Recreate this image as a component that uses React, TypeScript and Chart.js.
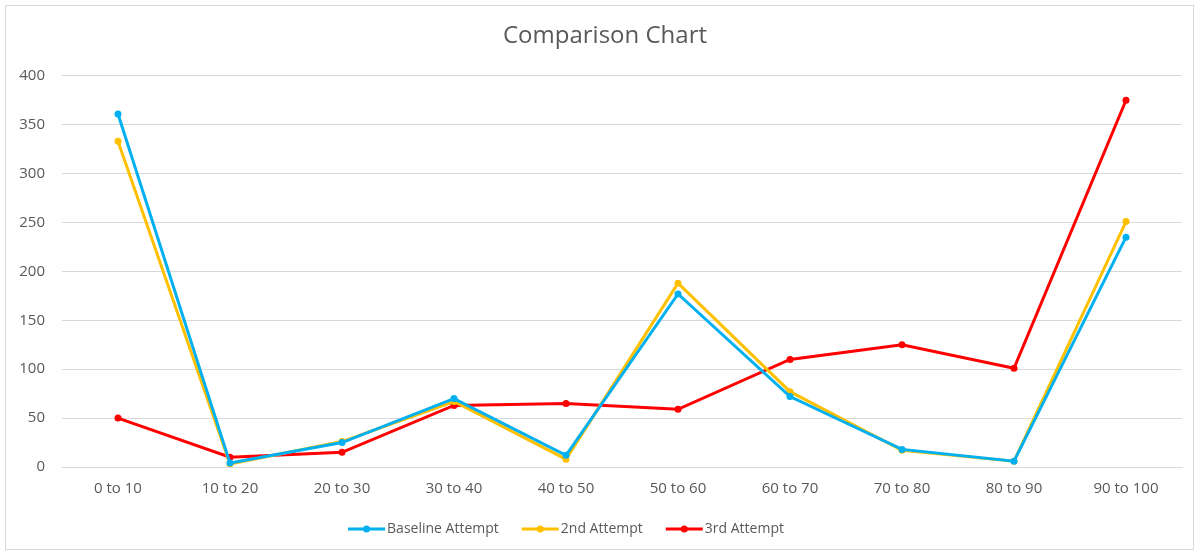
import React, { useEffect, useRef } from "react";
import { Chart, registerables } from "chart.js";

Chart.register(...registerables);

const categories = ["0 to 10", "10 to 20", "20 to 30", "30 to 40", "40 to 50", "50 to 60", "60 to 70", "70 to 80", "80 to 90", "90 to 100"];
const baselineAttempt = [361, 4, 25, 70, 12, 177, 72, 18, 6, 235];
const secondAttempt = [333, 3, 26, 67, 8, 188, 77, 17, 6, 251];
const thirdAttempt = [50, 10, 15, 63, 65, 59, 110, 125, 101, 375];
const seriesNames = ["Baseline Attempt", "2nd Attempt", "3rd Attempt"];
const seriesColors = ["#00B0F0", "#FFC000", "#FF0000"];
const yTicks = [0, 50, 100, 150, 200, 250, 300, 350, 400];

const FONT = "'Open Sans', sans-serif";
const TEXT = "#595959";

const frameAndLegend = {
  id: "frameAndLegend",
  afterLayout(chart: any) {
    const t = chart.titleBlock;
    if (t) {
      t.left = 28;
      t.width = t.right - t.left;
    }
  },
  beforeDraw(chart: any) {
    const { ctx, width, height } = chart;
    ctx.save();
    ctx.fillStyle = "#ffffff";
    ctx.fillRect(0, 0, width, height);
    ctx.strokeStyle = "#d9d9d9";
    ctx.lineWidth = 1;
    ctx.strokeRect(5.5, 5.5, width - 11, height - 10);
    ctx.restore();
  },
  afterDraw(chart: any) {
    const { ctx } = chart;
    ctx.save();
    ctx.font = `14px ${FONT}`;
    const lineW = 37;
    const gap = 2;
    const itemGap = 23;
    const widths = chart.data.datasets.map((d: any) => lineW + gap + ctx.measureText(d.label).width);
    const total = widths.reduce((a: number, b: number) => a + b, 0) + itemGap * (widths.length - 1);
    let x = 566 - total / 2;
    const y = 529;
    chart.data.datasets.forEach((d: any, i: number) => {
      ctx.strokeStyle = d.borderColor;
      ctx.lineWidth = 3;
      ctx.beginPath();
      ctx.moveTo(x, y);
      ctx.lineTo(x + lineW, y);
      ctx.stroke();
      ctx.fillStyle = d.borderColor;
      ctx.beginPath();
      ctx.arc(x + lineW / 2, y, 3.5, 0, Math.PI * 2);
      ctx.fill();
      ctx.fillStyle = TEXT;
      ctx.textBaseline = "middle";
      ctx.textAlign = "left";
      ctx.fillText(d.label, x + lineW + gap, y);
      x += widths[i] + itemGap;
    });
    ctx.restore();
  },
};

export default function App() {
  const ref = useRef<HTMLCanvasElement | null>(null);
  useEffect(() => {
    document.body.style.margin = "0";
    const series = [baselineAttempt, secondAttempt, thirdAttempt];
    const chart = new Chart(ref.current as HTMLCanvasElement, {
      type: "line",
      data: {
        labels: categories,
        datasets: series.map((data, i) => ({
          label: seriesNames[i],
          data,
          borderColor: seriesColors[i],
          backgroundColor: seriesColors[i],
          borderWidth: 3,
          pointRadius: 3.5,
          pointBorderWidth: 0,
          pointBackgroundColor: seriesColors[i],
          tension: 0,
          fill: false,
        })),
      },
      options: {
        animation: false,
        responsive: false,
        layout: { padding: { left: 0, right: 17, top: 0, bottom: 0 } },
        plugins: {
          legend: { display: false },
          tooltip: { enabled: false },
          title: {
            display: true,
            text: "Comparison Chart",
            color: TEXT,
            font: { family: FONT, size: 24, weight: "normal" },
            padding: { top: 22, bottom: 25 },
          },
        },
        scales: {
          x: {
            offset: true,
            grid: { display: false, drawTicks: false },
            border: { display: true, color: "#d9d9d9", width: 1 },
            ticks: { color: TEXT, font: { family: FONT, size: 15 }, padding: 13, maxRotation: 0, autoSkip: false },
            afterFit: (s: any) => { s.height = 87; },
          },
          y: {
            min: 0,
            max: 400,
            afterBuildTicks: (s: any) => { s.ticks = yTicks.map((v) => ({ value: v })); },
            grid: { color: "#d9d9d9", drawTicks: false, lineWidth: 1 },
            border: { display: false },
            ticks: { color: TEXT, font: { family: FONT, size: 15 }, padding: 17 },
            afterFit: (s: any) => { s.width = 62; },
          },
        },
      },
      plugins: [frameAndLegend],
    });
    return () => chart.destroy();
  }, []);
  return (
    <div style={{ width: 1199, height: 554 }}>
      <canvas ref={ref} width={1199} height={554} style={{ display: "block" }} />
    </div>
  );
}
